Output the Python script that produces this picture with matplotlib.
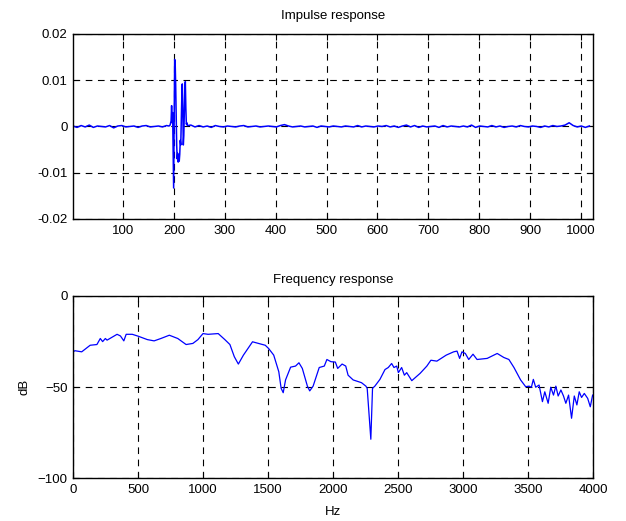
import matplotlib
matplotlib.use("Agg")
import matplotlib.pyplot as plt

plt.rcParams['font.family'] = ['Liberation Sans', 'DejaVu Sans']

# ---------------- data ----------------
# Impulse response: background noise sampled every 8 samples (values x 1e-4)
noise_n = list(range(1, 1025, 8))
noise_e4 = [1, -2, 2, -1, 3, -2, 1, 0, -1, 2, -3, 1, 2, -1, 0, 1,
            -2, 1, 2, -1, 0, 1, -1, 2, 0, 0, 0, 0, 0, 3, -1, 2,
            -1, 1, -2, 2, 0, -1, 1, 0, -1, 1, 2, -1, 0, 1, -1, 0,
            1, 0, -1, 2, 4, 1, -1, 0, 1, -1, 0, 1, -2, 1, 0, -1,
            1, 0, -1, 1, 0, -1, 2, -1, 1, 0, -1, 1, 0, 2, -1, 1,
            -2, 1, 3, -1, 2, -2, 1, -1, 0, 1, -2, 2, -1, 1, 0, -1,
            1, -1, 3, -2, 1, 0, -1, 2, -1, 1, -2, 0, 1, -1, 2, 0,
            -1, 1, 0, -2, 1, -1, 2, 0, 1, 3, 8, 2, -1, 1, -2, 1]
# Main pulse samples
spike_n = [190, 192, 194, 195, 196, 197, 198, 199, 200, 201, 202, 203, 204,
           205, 206, 207, 208, 209, 210, 211, 212, 213, 214, 215, 216, 217,
           218, 219, 220, 221, 222, 223, 224, 225, 226]
spike_v = [0.0001, 0.0003, 0.0012, 0.0045, 0.0008, 0.003, -0.006, -0.0133,
           0.002, 0.0145, 0.0138, 0.009, 0.002, -0.004, -0.007, -0.0058,
           -0.0077, -0.0062, -0.0075, -0.006, -0.003, -0.004, 0.001, 0.006,
           0.0092, 0.004, -0.004, -0.002, 0.003, 0.008, 0.0097, 0.004,
           0.0005, 0.0008, 0.0002]

# Frequency response (Hz, dB)
freq_hz = [0, 15, 67, 132, 184, 210, 228, 249, 262, 339, 365, 391, 409, 456,
           500, 572, 624, 676, 741, 806, 870, 922, 961, 1000, 1039, 1117,
           1168, 1207, 1241, 1272, 1311, 1381, 1427, 1479, 1505, 1544, 1583,
           1601, 1617, 1635, 1674, 1712, 1738, 1764, 1803, 1821, 1847, 1894,
           1933, 1953, 1984, 2018, 2036, 2070, 2098, 2116, 2155, 2219, 2253,
           2263, 2291, 2304, 2322, 2361, 2400, 2425, 2451, 2469, 2490, 2503,
           2528, 2549, 2567, 2606, 2670, 2722, 2753, 2799, 2871, 2928, 2954,
           2974, 2992, 3018, 3044, 3077, 3108, 3186, 3263, 3314, 3353, 3392,
           3443, 3482, 3508, 3526, 3541, 3559, 3585, 3611, 3629, 3655, 3675,
           3696, 3714, 3732, 3753, 3773, 3791, 3812, 3835, 3856, 3876, 3894,
           3912, 3933, 3959, 3979, 3997]
mag_db = [-30.6, -30.0, -30.6, -27.0, -26.6, -23.3, -25.0, -23.3, -24.2, -21.0,
          -21.9, -24.6, -21.0, -21.0, -22.0, -23.9, -24.6, -23.3, -21.5, -23.3,
          -26.6, -26.0, -23.9, -20.6, -21.0, -20.6, -23.9, -26.6, -33.3, -37.3,
          -32.4, -25.1, -26.0, -27.0, -28.8, -32.4, -41.5, -50.6, -53.0, -46.0,
          -39.0, -38.4, -36.6, -39.7, -49.4, -52.0, -49.4, -39.2, -38.4, -34.8,
          -36.0, -36.2, -39.7, -37.3, -38.4, -43.4, -46.0, -47.5, -49.4, -50.6,
          -78.5, -50.6, -49.4, -45.7, -40.3, -39.2, -37.0, -39.2, -38.4, -42.0,
          -39.2, -43.4, -42.0, -46.4, -42.4, -38.4, -35.2, -35.7, -32.4, -30.6,
          -30.2, -34.2, -30.6, -31.5, -34.8, -31.9, -34.8, -34.2, -31.5, -33.7,
          -34.8, -39.2, -46.0, -49.7, -49.4, -50.0, -45.7, -50.0, -48.8, -57.9,
          -52.5, -58.8, -50.0, -54.3, -49.4, -54.8, -51.5, -54.8, -58.8, -54.3,
          -67.0, -54.8, -59.7, -52.5, -55.6, -53.4, -56.1, -60.7, -54.3]

top_xticks = [100, 200, 300, 400, 500, 600, 700, 800, 900, 1000]
top_yticks = [-0.02, -0.01, 0, 0.01, 0.02]
top_yticklabels = ['-0.02', '-0.01', '0', '0.01', '0.02']
bot_xticks = [0, 500, 1000, 1500, 2000, 2500, 3000, 3500, 4000]
bot_yticks = [-100, -50, 0]

# combine impulse data
pts = [(n, v * 1e-4) for n, v in zip(noise_n, noise_e4) if n < 188 or n > 228]
pts += list(zip(spike_n, spike_v))
pts.sort()
imp_n = [p[0] for p in pts]
imp_v = [p[1] for p in pts]

# ---------------- plot ----------------
fig = plt.figure(figsize=(6.26, 5.21), dpi=100)
ax1 = fig.add_axes([0.1166, 0.5797, 0.8307, 0.3551])
ax2 = fig.add_axes([0.1166, 0.0816, 0.8307, 0.3503])

blue = '#0000ff'
fs = 9.5

def style(ax):
    ax.grid(True, color='black', linestyle=(0, (6, 5)), linewidth=0.8)
    ax.tick_params(direction='in', length=4, top=True, right=True,
                   labelsize=fs, width=0.8, pad=4)
    for s in ax.spines.values():
        s.set_linewidth(1.0)

ax1.plot(imp_n, imp_v, color=blue, linewidth=1.1)
ax1.set_xlim(1, 1024)
ax1.set_ylim(-0.02, 0.02)
ax1.set_xticks(top_xticks)
ax1.set_yticks(top_yticks)
ax1.set_yticklabels(top_yticklabels)
ax1.set_title('Impulse response', fontsize=fs, pad=11)
style(ax1)

ax2.plot(freq_hz, mag_db, color=blue, linewidth=0.9)
ax2.set_xlim(0, 4000)
ax2.set_ylim(-100, 0)
ax2.set_xticks(bot_xticks)
ax2.set_yticks(bot_yticks)
ax2.set_title('Frequency response', fontsize=fs, pad=9)
ax2.set_xlabel('Hz', fontsize=fs, labelpad=7)
ax2.set_ylabel('dB', fontsize=fs, labelpad=5)
style(ax2)

fig.savefig('out.png', dpi=100)
